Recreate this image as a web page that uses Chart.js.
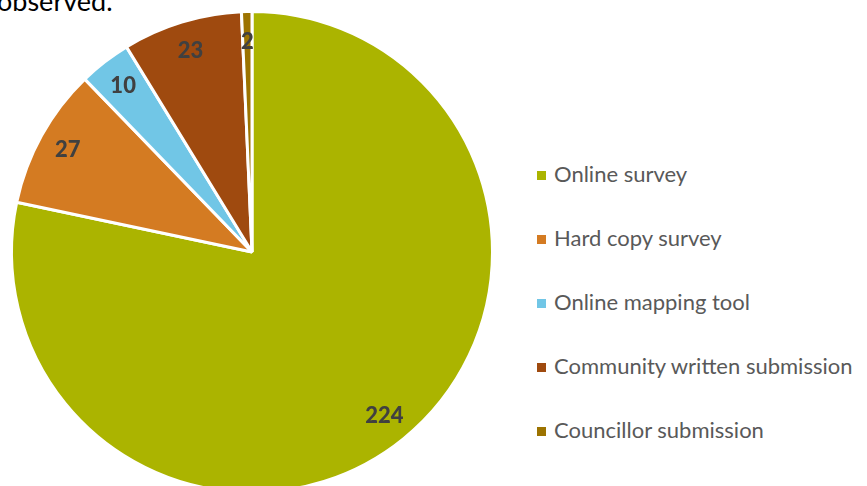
<!DOCTYPE html>
<html>
<head>
<meta charset="utf-8">
<script src="https://cdn.jsdelivr.net/npm/chart.js@4/dist/chart.umd.min.js"></script>
<style>
  body { margin: 0; width: 867px; height: 486px; overflow: hidden; background: #fff; position: relative; }
  #top { position: absolute; left: -3px; top: -16px; font: 27px Lato, sans-serif; color: #000; }
  #wrap { position: absolute; left: 0; top: 0; width: 504px; height: 504px; }
  #legend { position: absolute; left: 537px; top: 0; font: 22px Lato, sans-serif; color: #595959; }
  #legend div { position: absolute; white-space: nowrap; height: 24px; line-height: 24px; }
  #legend span { display: inline-block; width: 9px; height: 9px; margin-right: 8px; vertical-align: 2px; }
</style>
</head>
<body>
<div id="top">observed.</div>
<div id="wrap"><canvas id="grafico" width="504" height="504"></canvas></div>
<div id="legend"></div>
<script>
// dados
const categorias = ['Online survey', 'Hard copy survey', 'Online mapping tool', 'Community written submission', 'Councillor submission']
const valores = [224, 27, 10, 23, 2]
const cores = ['#ABB400', '#D47B22', '#71C6E6', '#9F4A0F', '#9C7300']

// legenda em html
const leg = document.getElementById('legend')
categorias.forEach((nome, i) => {
    const item = document.createElement('div')
    item.style.top = (162 + i * 64) + 'px'
    item.innerHTML = '<span style="background:' + cores[i] + '"></span>' + nome
    leg.appendChild(item)
})

// rótulos dentro das fatias
const rotulos = {
    id: 'rotulos',
    afterDatasetsDraw(chart) {
        const ctx = chart.ctx
        const meta = chart.getDatasetMeta(0)
        ctx.save()
        ctx.font = '900 22px Lato, sans-serif'
        ctx.fillStyle = '#404040'
        ctx.textAlign = 'center'
        ctx.textBaseline = 'middle'
        meta.data.forEach((arc, i) => {
            const p = arc.getProps(['x', 'y', 'startAngle', 'endAngle', 'outerRadius'])
            const meio = (p.startAngle + p.endAngle) / 2
            const r = p.outerRadius * 0.875
            ctx.fillText(valores[i], p.x + Math.cos(meio) * r, p.y + Math.sin(meio) * r)
        })
        ctx.restore()
    }
}

const ctx = document.getElementById('grafico').getContext('2d')
const graph = new Chart(ctx, {
    type: 'pie',
    data: {
        labels: categorias,
        datasets: [{
            data: valores,
            backgroundColor: cores,
            borderColor: '#ffffff',
            borderWidth: 3,
        }]
    },
    options: {
        responsive: false,
        animation: false,
        layout: { padding: 10 },
        plugins: {
            legend: { display: false },
            tooltip: { enabled: false }
        }
    },
    plugins: [rotulos]
})
</script>
</body>
</html>
